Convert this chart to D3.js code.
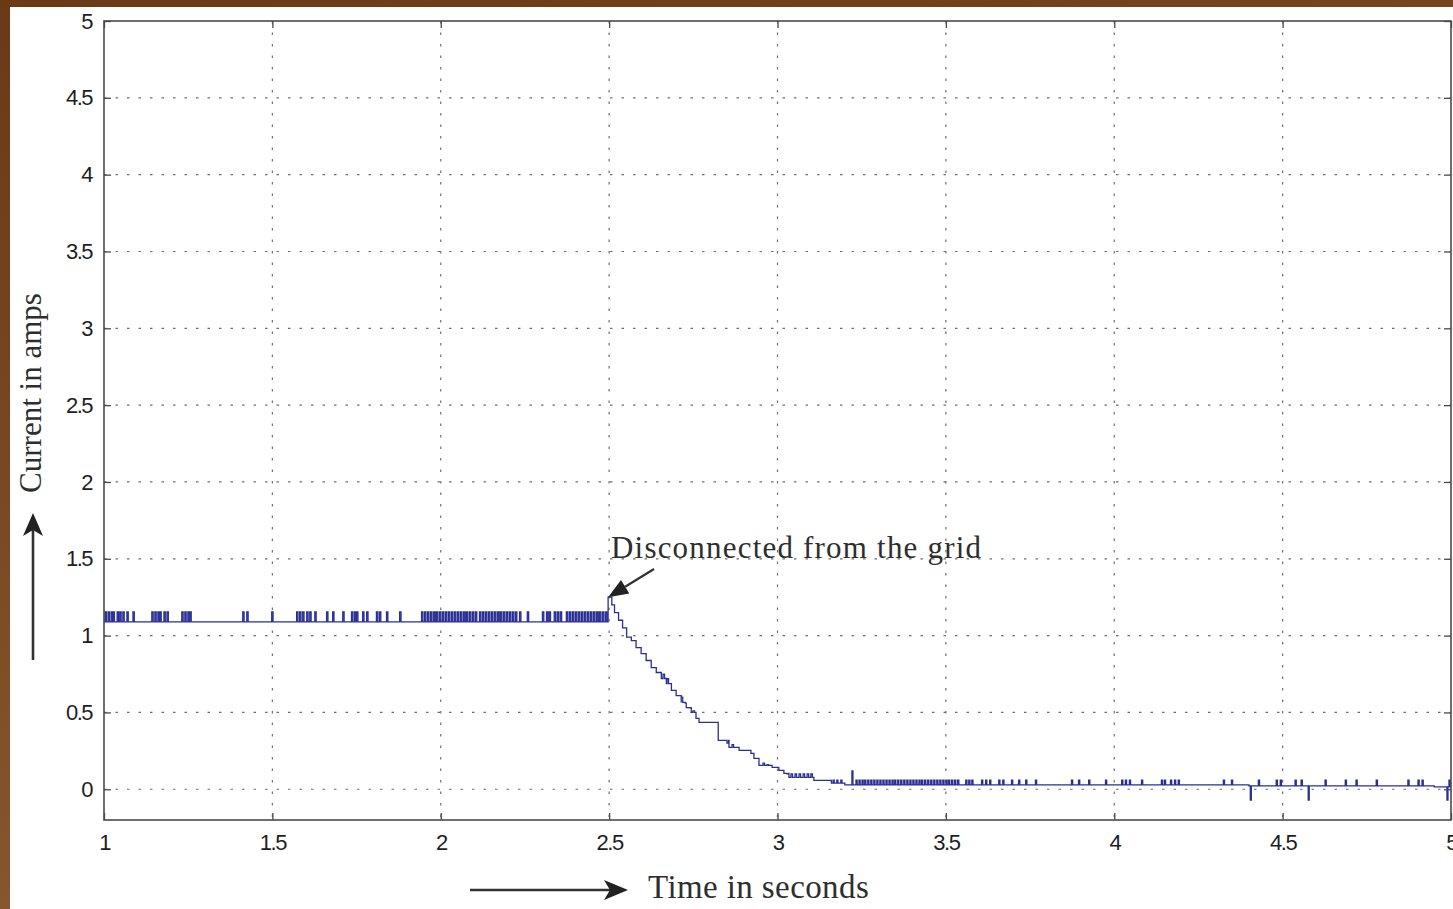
<!DOCTYPE html>
<html>
<head>
<meta charset="utf-8">
<script src="https://cdn.jsdelivr.net/npm/d3@7"></script>
<style>
  html, body { margin: 0; padding: 0; background: #fff; }
  svg { display: block; }
</style>
</head>
<body>
<svg id="chart" width="1453" height="909"></svg>
<script>
// Tick values and labels
const xTicks = [1, 1.5, 2, 2.5, 3, 3.5, 4, 4.5, 5];
const xTickLabels = ["1", "1.5", "2", "2.5", "3", "3.5", "4", "4.5", "5"];
const yTicks = [0, 0.5, 1, 1.5, 2, 2.5, 3, 3.5, 4, 4.5, 5];
const yTickLabels = ["0", "0.5", "1", "1.5", "2", "2.5", "3", "3.5", "4", "4.5", "5"];

// Current level (A) held from each time (s) until the next one
const levelTimes = [1.000, 2.497, 2.508, 2.516, 2.528, 2.540, 2.552, 2.566, 2.580, 2.595,
  2.610, 2.625, 2.640, 2.655, 2.670, 2.685, 2.699, 2.714, 2.729, 2.744, 2.758, 2.767,
  2.824, 2.856, 2.886, 2.921, 2.930, 2.945, 2.984, 3.004, 3.019, 3.034, 3.108, 3.160,
  3.200, 4.400, 4.950];
const levelValues = [1.09, 1.25, 1.20, 1.15, 1.10, 1.05, 0.99, 0.967, 0.922, 0.883,
  0.838, 0.792, 0.760, 0.721, 0.688, 0.643, 0.610, 0.565, 0.532, 0.500, 0.461, 0.435,
  0.318, 0.273, 0.253, 0.234, 0.201, 0.156, 0.143, 0.123, 0.104, 0.078, 0.058, 0.040,
  0.028, 0.022, 0.015];

// Quantisation blips while grid-connected (jump up to 1.155 A)
const gridBlipTimes = [1.003, 1.012, 1.021, 1.027, 1.039, 1.047, 1.056, 1.068, 1.086,
  1.142, 1.151, 1.160, 1.166, 1.178, 1.187, 1.231, 1.240, 1.249, 1.255, 1.412, 1.424,
  1.498, 1.572, 1.581, 1.590, 1.602, 1.611, 1.626, 1.661, 1.679, 1.709, 1.735, 1.744,
  1.750, 1.768, 1.780, 1.809, 1.818, 1.839, 1.878, 1.943, 1.952, 1.961, 1.970, 1.979,
  1.987, 1.996, 2.005, 2.014, 2.023, 2.032, 2.041, 2.050, 2.059, 2.068, 2.076, 2.085,
  2.094, 2.103, 2.115, 2.124, 2.133, 2.142, 2.151, 2.160, 2.169, 2.177, 2.186, 2.195,
  2.204, 2.213, 2.222, 2.234, 2.257, 2.302, 2.314, 2.322, 2.337, 2.346, 2.355, 2.373,
  2.382, 2.391, 2.400, 2.409, 2.418, 2.427, 2.436, 2.445, 2.454, 2.463, 2.471, 2.480,
  2.489];
const gridBlipLevel = 1.155;

// Blips during the decay after disconnection
const decayBlipTimes = [2.660, 2.672, 2.714, 2.726, 2.738, 2.749, 2.850, 2.865, 2.957,
  2.969, 2.981, 3.028, 3.040, 3.052, 3.064, 3.076, 3.088, 3.099];
const decayBlipValues = [0.75, 0.72, 0.60, 0.56, 0.53, 0.51, 0.30, 0.29, 0.17,
  0.16, 0.155, 0.10, 0.10, 0.10, 0.10, 0.10, 0.10, 0.10];

// Residual blips once islanded
const tailBlipTimes = [3.165, 3.176, 3.188, 3.233, 3.242, 3.251, 3.259, 3.268, 3.277,
  3.286, 3.295, 3.304, 3.313, 3.322, 3.331, 3.340, 3.348, 3.357, 3.366, 3.375, 3.384,
  3.393, 3.402, 3.411, 3.420, 3.428, 3.437, 3.446, 3.455, 3.464, 3.473, 3.482, 3.491,
  3.500, 3.508, 3.517, 3.526, 3.535, 3.559, 3.568, 3.577, 3.606, 3.618, 3.630, 3.657,
  3.669, 3.695, 3.716, 3.737, 3.766, 3.873, 3.894, 3.924, 3.974, 4.022, 4.033, 4.045,
  4.081, 4.140, 4.149, 4.167, 4.179, 4.190, 4.324, 4.348, 4.428, 4.481, 4.493, 4.537,
  4.555, 4.626, 4.686, 4.718, 4.778, 4.872, 4.902, 4.914, 4.994];
const tailBlipLevel = 0.06;
const spikeTimes = [3.221, 4.404, 4.576, 4.988];
const spikeValues = [0.12, -0.07, -0.07, -0.07];

const W = 1453, H = 909;
const plot = { left: 104, right: 1451, top: 21, bottom: 820 };

const svg = d3.select("#chart");
const defs = svg.append("defs");
const grad = defs.append("linearGradient").attr("id", "frameBrown")
  .attr("x1", "0").attr("y1", "0").attr("x2", "0.4").attr("y2", "1");
grad.append("stop").attr("offset", "0").attr("stop-color", "#6a3a16");
grad.append("stop").attr("offset", "1").attr("stop-color", "#8a5a31");

// brown mount around the figure
svg.append("rect").attr("width", W).attr("height", H).attr("fill", "url(#frameBrown)");
svg.append("rect").attr("x", 10).attr("y", 7).attr("width", W - 10).attr("height", H - 7).attr("fill", "#fff");

const x = d3.scaleLinear().domain([1, 5]).range([plot.left, plot.right]);
const y = d3.scaleLinear().domain([-0.2, 5]).range([plot.bottom, plot.top]);

const g = svg.append("g");

// dotted grid
g.append("g").selectAll("line").data(xTicks.slice(1, -1)).join("line")
  .attr("x1", d => x(d)).attr("x2", d => x(d))
  .attr("y1", plot.top).attr("y2", plot.bottom)
  .attr("stroke", "#6e6e6e").attr("stroke-width", 1.2).attr("stroke-dasharray", "2.5,9");
g.append("g").selectAll("line").data(yTicks.slice(0, -1)).join("line")
  .attr("x1", plot.left).attr("x2", plot.right)
  .attr("y1", d => y(d)).attr("y2", d => y(d))
  .attr("stroke", "#6e6e6e").attr("stroke-width", 1.2).attr("stroke-dasharray", "2.5,9");

// build the sampled current trace
function baseAt(t) {
  let v = levelValues[0];
  for (let i = 0; i < levelTimes.length; i++) {
    if (levelTimes[i] <= t) v = levelValues[i]; else break;
  }
  return v;
}
const pts = levelTimes.map((t, i) => [t, levelValues[i]]);
function addBlips(times, vals, w) {
  times.forEach((t, i) => {
    const v = Array.isArray(vals) ? vals[i] : vals;
    pts.push([t, v]);
    pts.push([t + w, baseAt(t + w)]);
  });
}
addBlips(gridBlipTimes, gridBlipLevel, 0.004);
addBlips(decayBlipTimes, decayBlipValues, 0.0045);
addBlips(tailBlipTimes, tailBlipLevel, 0.0035);
addBlips(spikeTimes, spikeValues, 0.003);
pts.sort((a, b) => a[0] - b[0]);
pts.push([5, baseAt(5)]);

const line = d3.line().x(d => x(d[0])).y(d => y(d[1])).curve(d3.curveStepAfter);
g.append("path").datum(pts)
  .attr("d", line)
  .attr("fill", "none")
  .attr("stroke", "#2a2f95")
  .attr("stroke-width", 1.3);

// axes box with inward ticks
const axisColor = "#4a4a4a";
const tickLen = 7;
const axB = d3.axisBottom(x).tickValues(xTicks).tickSize(-tickLen).tickFormat((d, i) => xTickLabels[i]).tickPadding(14);
const axT = d3.axisTop(x).tickValues(xTicks).tickSize(-tickLen).tickFormat("");
const axL = d3.axisLeft(y).tickValues(yTicks).tickSize(-tickLen).tickFormat((d, i) => yTickLabels[i]).tickPadding(12);
const axR = d3.axisRight(y).tickValues(yTicks).tickSize(-tickLen).tickFormat("");

function styleAxis(sel) {
  sel.select(".domain").remove();
  sel.selectAll(".tick line").attr("stroke", axisColor).attr("stroke-width", 1.3);
  sel.selectAll(".tick text")
    .attr("fill", "#1e1e1e")
    .style("font-family", "'Liberation Sans', Arial, sans-serif")
    .style("font-size", "22px")
    .style("letter-spacing", "-1.5px");
}
g.append("g").attr("transform", `translate(0,${plot.bottom})`).call(axB).call(styleAxis);
g.append("g").attr("transform", `translate(0,${plot.top})`).call(axT).call(styleAxis);
g.append("g").attr("transform", `translate(${plot.left},0)`).call(axL).call(styleAxis);
g.append("g").attr("transform", `translate(${plot.right},0)`).call(axR).call(styleAxis);

g.append("rect")
  .attr("x", plot.left).attr("y", plot.top)
  .attr("width", plot.right - plot.left).attr("height", plot.bottom - plot.top)
  .attr("fill", "none").attr("stroke", axisColor).attr("stroke-width", 1.6);

const serif = "'Liberation Serif', 'Times New Roman', serif";
const ink = "#2e2e2e";

// axis titles with direction arrows
svg.append("text")
  .attr("transform", "translate(41,393) rotate(-90)")
  .attr("text-anchor", "middle")
  .style("font-family", serif).style("font-size", "31px")
  .attr("fill", ink)
  .text("Current in amps");
svg.append("line").attr("x1", 33).attr("x2", 33).attr("y1", 660).attr("y2", 528)
  .attr("stroke", "#333").attr("stroke-width", 2.6);
svg.append("path").attr("d", "M33,513 L43,536 L33,530 L23,536 Z").attr("fill", "#222");

svg.append("text")
  .attr("x", 648).attr("y", 898)
  .style("font-family", serif).style("font-size", "33px")
  .style("letter-spacing", "0.4px")
  .attr("fill", ink)
  .text("Time in seconds");
svg.append("line").attr("x1", 470).attr("x2", 612).attr("y1", 890).attr("y2", 890)
  .attr("stroke", "#333").attr("stroke-width", 2.6);
svg.append("path").attr("d", "M628,890 L604,880 L610,890 L604,900 Z").attr("fill", "#222");

// annotation at the disconnection instant
const tipX = x(2.497), tipY = y(1.25);
svg.append("text")
  .attr("x", 611).attr("y", 558)
  .style("font-family", serif).style("font-size", "31px")
  .style("letter-spacing", "1.2px")
  .attr("fill", ink)
  .text("Disconnected from the grid");
const ax0 = 654, ay0 = 569;
const ang = Math.atan2(tipY - ay0, tipX - ax0);
const hl = 20, hw = 8;
const bx = tipX - hl * Math.cos(ang), by = tipY - hl * Math.sin(ang);
svg.append("line").attr("x1", ax0).attr("y1", ay0).attr("x2", bx).attr("y2", by)
  .attr("stroke", "#333").attr("stroke-width", 2.2);
svg.append("path")
  .attr("d", `M${tipX},${tipY} L${bx + hw * Math.sin(ang)},${by - hw * Math.cos(ang)} L${bx - hw * Math.sin(ang)},${by + hw * Math.cos(ang)} Z`)
  .attr("fill", "#222");
</script>
</body>
</html>
